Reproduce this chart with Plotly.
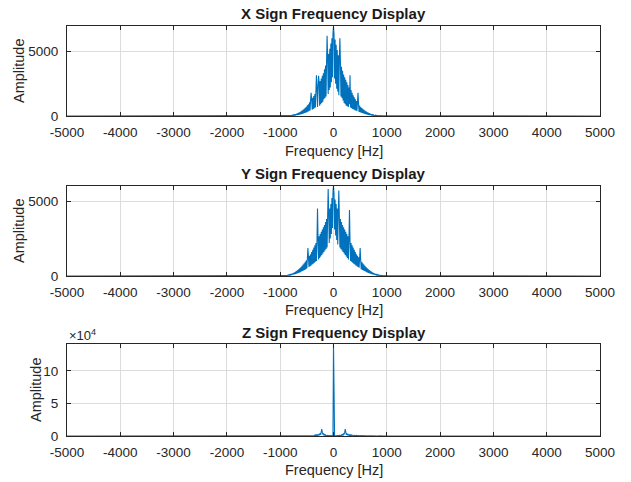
import plotly.graph_objects as go

# frequency grid of the visible spectrum core (Hz), plus the span ends
freq_core = list(range(-1000, 1001, 10))
freq = [-5000] + freq_core + [5000]

x_amp = [5] + [
    8, 12, 6, 15, 10, 18, 9, 20, 12, 22,
    14, 25, 12, 30, 18, 35, 20, 40, 25, 48,
    30, 60, 35, 75, 40, 90, 50, 110, 60, 140,
    70, 170, 80, 210, 95, 250, 110, 300, 130, 350,
    150, 420, 170, 480, 200, 560, 230, 640, 260, 720,
    300, 820, 340, 900, 380, 1050, 420, 1200, 1800, 1300,
    480, 1400, 550, 1550, 600, 1700, 650, 1900, 3150, 2100,
    700, 2300, 3100, 2500, 800, 2700, 900, 2900, 1000, 3100,
    1100, 3300, 1300, 3600, 1400, 3900, 1500, 4200, 6200, 4500,
    1700, 4800, 2000, 5200, 2200, 5600, 2600, 6000, 3000, 6400,
    6900,
    6300, 2900, 5900, 2500, 5500, 2100, 5100, 1900, 4700, 1600,
    4400, 6000, 4100, 1500, 3800, 1400, 3500, 1200, 3200, 1000,
    3000, 900, 2800, 800, 2600, 750, 2400, 700, 2200, 900,
    3150, 650, 2000, 600, 1800, 550, 1600, 500, 1450, 450,
    1300, 420, 1150, 380, 1050, 1800, 900, 320, 800, 290,
    700, 260, 620, 230, 550, 200, 480, 170, 420, 150,
    360, 130, 300, 110, 250, 95, 210, 80, 170, 70,
    140, 60, 110, 50, 90, 40, 75, 35, 60, 30,
    48, 25, 40, 20, 35, 18, 30, 12, 25, 14,
    22, 12, 20, 9, 18, 10, 15, 6, 12, 8,
] + [5]

y_amp = [5] + [
    10, 20, 12, 25, 15, 30, 18, 35, 22, 40,
    28, 50, 32, 60, 38, 75, 45, 90, 55, 110,
    65, 140, 80, 170, 95, 200, 110, 240, 130, 290,
    150, 340, 170, 400, 200, 460, 230, 530, 260, 600,
    300, 680, 330, 760, 370, 850, 410, 950, 450, 1050,
    500, 1150, 1870, 1250, 600, 1350, 650, 1450, 700, 1600,
    760, 1750, 820, 1900, 880, 2050, 950, 2200, 1000, 2350,
    4500, 2500, 1100, 2650, 1200, 2800, 1300, 2950, 1400, 3100,
    1500, 3250, 1600, 3400, 1700, 3600, 1800, 3800, 1900, 4000,
    5800, 4200, 2200, 4500, 2500, 4800, 2800, 5200, 3200, 5600,
    6000,
    5500, 3100, 5100, 2700, 4800, 2400, 4500, 2100, 4200, 5700,
    4000, 1900, 3800, 1800, 3600, 1700, 3400, 1600, 3250, 1500,
    3100, 1400, 2950, 1300, 2800, 1200, 2650, 1100, 2500, 4400,
    2350, 1000, 2200, 950, 2050, 880, 1900, 820, 1750, 760,
    1600, 700, 1450, 650, 1350, 600, 1250, 550, 1150, 1870,
    1050, 450, 950, 410, 850, 370, 760, 330, 680, 300,
    600, 260, 530, 230, 460, 200, 400, 170, 340, 150,
    290, 130, 240, 110, 200, 95, 170, 80, 140, 65,
    110, 55, 90, 45, 75, 38, 60, 32, 50, 28,
    40, 22, 35, 18, 30, 15, 25, 12, 20, 10,
] + [5]

z_amp = [40] + [
    50, 80, 40, 90, 60, 100, 50, 110, 70, 120,
    60, 130, 80, 140, 70, 150, 90, 160, 80, 180,
    100, 200, 90, 220, 110, 240, 120, 260, 130, 280,
    140, 300, 150, 330, 160, 360, 170, 400, 180, 440,
    200, 480, 220, 520, 240, 560, 260, 600, 280, 650,
    300, 700, 320, 760, 340, 820, 360, 900, 380, 1000,
    400, 1100, 450, 1200, 500, 1400, 550, 1600, 600, 1900,
    700, 2300, 900, 3000, 1200, 4200, 2000, 6500, 10500, 5500,
    2500, 3500, 1500, 2400, 1000, 1800, 800, 1400, 600, 1100,
    500, 900, 400, 800, 350, 700, 300, 650, 400, 1200,
    141000,
    1200, 400, 650, 300, 700, 350, 800, 400, 900, 500,
    1100, 600, 1400, 800, 1800, 1000, 2400, 1500, 3500, 2500,
    5500, 10500, 6500, 2000, 4200, 1200, 3000, 900, 2300, 700,
    1900, 600, 1600, 550, 1400, 500, 1200, 450, 1100, 400,
    1000, 380, 900, 360, 820, 340, 760, 320, 700, 300,
    650, 280, 600, 260, 560, 240, 520, 220, 480, 200,
    440, 180, 400, 170, 360, 160, 330, 150, 300, 140,
    280, 130, 260, 120, 240, 110, 220, 90, 200, 100,
    180, 80, 160, 90, 150, 70, 140, 80, 130, 60,
    120, 70, 110, 50, 100, 60, 90, 40, 80, 50,
] + [40]

titles = ["X Sign Frequency Display", "Y Sign Frequency Display", "Z Sign Frequency Display"]
x_ticks = [-5000, -4000, -3000, -2000, -1000, 0, 1000, 2000, 3000, 4000, 5000]
y_ranges = [[0, 6950], [0, 6000], [0, 141500]]
y_tickvals = [[0, 5000], [0, 5000], [0, 50000, 100000]]
y_ticktext = [["0", "5000"], ["0", "5000"], ["0", "5", "10"]]

W, H = 631, 482
L, R = 67, 600
plot_px = [(26, 116), (186, 276), (344, 436)]
title_px = [13, 173, 332]
xlab_px = [151, 310, 470]
ylab_x_px = [19, 19, 36]

def py(p):
    return 1 - p / H

def px(p):
    return p / W

FONT = "Liberation Sans, Arial, sans-serif"
blue = "#0072BD"
fig = go.Figure()
series = [x_amp, y_amp, z_amp]
for i, s in enumerate(series):
    fig.add_trace(go.Scatter(
        x=freq, y=s, mode="lines",
        line=dict(color=blue, width=1.1),
        xaxis="x" if i == 0 else f"x{i+1}",
        yaxis="y" if i == 0 else f"y{i+1}",
        showlegend=False, hoverinfo="skip",
    ))

tick_font = dict(family=FONT, size=13.5, color="#262626")
layout = dict(
    template="none",
    width=W, height=H,
    margin=dict(l=0, r=0, t=0, b=0, pad=0, autoexpand=False),
    paper_bgcolor="white", plot_bgcolor="white",
    annotations=[],
)
for i in range(3):
    top, bot = plot_px[i]
    xname = "xaxis" if i == 0 else f"xaxis{i+1}"
    yname = "yaxis" if i == 0 else f"yaxis{i+1}"
    yanchor = "y" if i == 0 else f"y{i+1}"
    xanchor = "x" if i == 0 else f"x{i+1}"
    layout[xname] = dict(
        domain=[px(L), px(R)], anchor=yanchor, range=[-5000, 5000],
        tickvals=x_ticks, ticktext=[str(v) for v in x_ticks],
        showgrid=True, gridcolor="#dcdcdc", gridwidth=1,
        zeroline=False, showline=True, linecolor="#262626", linewidth=1,
        mirror="ticks", ticks="inside", ticklen=4, tickcolor="#262626",
        tickfont=tick_font, ticklabelstandoff=4, automargin=False,
    )
    layout[yname] = dict(
        domain=[py(bot), py(top)], anchor=xanchor, range=y_ranges[i],
        tickvals=y_tickvals[i], ticktext=y_ticktext[i],
        showgrid=True, gridcolor="#dcdcdc", gridwidth=1,
        zeroline=False, showline=True, linecolor="#262626", linewidth=1,
        mirror="ticks", ticks="inside", ticklen=4, tickcolor="#262626",
        tickfont=tick_font, ticklabelstandoff=5, automargin=False,
    )
    layout["annotations"].append(dict(
        text=f"<b>{titles[i]}</b>", x=px((L + R) / 2), y=py(title_px[i]),
        xref="paper", yref="paper", xanchor="center", yanchor="middle",
        showarrow=False, font=dict(family=FONT, size=15, color="#1a1a1a"),
    ))
    layout["annotations"].append(dict(
        text="Frequency [Hz]", x=px((L + R) / 2), y=py(xlab_px[i]),
        xref="paper", yref="paper", xanchor="center", yanchor="middle",
        showarrow=False, font=dict(family=FONT, size=14.5, color="#262626"),
    ))
    layout["annotations"].append(dict(
        text="Amplitude", x=px(ylab_x_px[i]), y=py((top + bot) / 2), textangle=-90,
        xref="paper", yref="paper", xanchor="center", yanchor="middle",
        showarrow=False, font=dict(family=FONT, size=14.5, color="#262626"),
    ))
layout["annotations"].append(dict(
    text="×10<sup>4</sup>", x=px(L), y=py(335),
    xref="paper", yref="paper", xanchor="left", yanchor="middle",
    showarrow=False, font=dict(family=FONT, size=13, color="#262626"),
))
fig.update_layout(**layout)
fig.write_html("out.html")
